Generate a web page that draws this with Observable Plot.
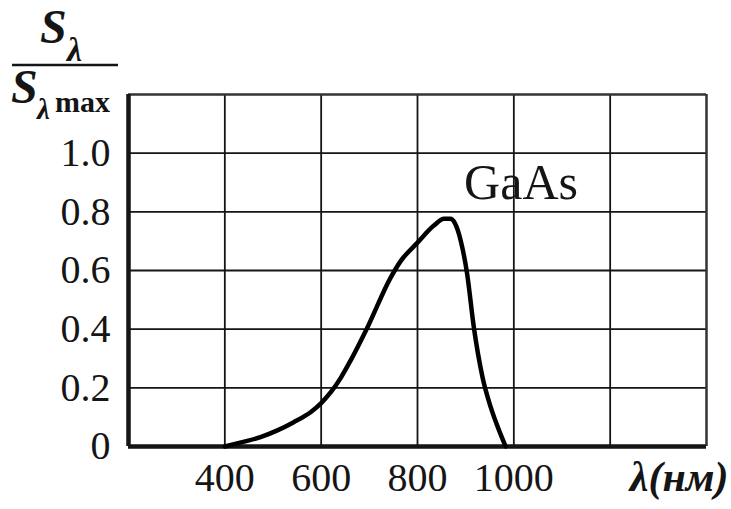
<!DOCTYPE html>
<html>
<head>
<meta charset="utf-8">
<script src="https://cdn.jsdelivr.net/npm/d3@7"></script>
<script src="https://cdn.jsdelivr.net/npm/@observablehq/plot@0.6"></script>
<style>
  body { margin: 0; background: #fff; }
  #chart { position: relative; width: 731px; height: 509px; }
</style>
</head>
<body>
<div id="chart"></div>
<script>
// Relative spectral sensitivity of a GaAs photocathode
const wavelength = [400, 436, 474, 509, 543, 578, 600, 620, 641, 661, 696, 744, 765, 800, 834, 855, 868, 878, 890, 903, 917, 935, 952, 972, 983];
const response   = [0, 0.015, 0.032, 0.055, 0.083, 0.117, 0.148, 0.185, 0.235, 0.293, 0.406, 0.575, 0.632, 0.695, 0.753, 0.776, 0.776, 0.76, 0.70, 0.589, 0.406, 0.236, 0.134, 0.044, 0];

const xGrid = [200, 400, 600, 800, 1000, 1200, 1400];
const yGrid = [0, 0.2, 0.4, 0.6, 0.8, 1.0, 1.2];
const xTicks = [400, 600, 800, 1000];
const xTickLabels = ["400", "600", "800", "1000"];
const yTicks = [0, 0.2, 0.4, 0.6, 0.8, 1.0];
const yTickLabels = ["0", "0.2", "0.4", "0.6", "0.8", "1.0"];
const seriesLabel = "GaAs";
const xLabel = "λ(нм)";

const data = wavelength.map((w, i) => ({w, s: response[i]}));
const ink = "#151515";
const serif = "'Liberation Serif', 'Times New Roman', serif";

const chart = Plot.plot({
  width: 731,
  height: 509,
  marginLeft: 128,
  marginRight: 25,
  marginTop: 94,
  marginBottom: 63,
  style: {fontFamily: serif, fontSize: "40px", color: ink, background: "#fff"},
  x: {domain: [200, 1400]},
  y: {domain: [0, 1.2]},
  marks: [
    // grid
    Plot.ruleX(xGrid.slice(1, -1), {stroke: ink, strokeWidth: 1.8}),
    Plot.ruleY(yGrid.slice(1, -1), {stroke: ink, strokeWidth: 1.8}),
    // frame: heavier left and bottom axes
    Plot.ruleX([xGrid[xGrid.length - 1]], {stroke: "#333", strokeWidth: 2.5}),
    Plot.ruleY([yGrid[yGrid.length - 1]], {stroke: "#333", strokeWidth: 2.5}),
    Plot.ruleX([xGrid[0]], {stroke: ink, strokeWidth: 4.5}),
    Plot.ruleY([yGrid[0]], {stroke: ink, strokeWidth: 4.5}),
    // response curve
    Plot.line(data, {x: "w", y: "s", curve: "monotone-x", stroke: "#000", strokeWidth: 4.5, strokeLinejoin: "round", strokeLinecap: "round"}),
    Plot.text([seriesLabel], {x: [1015], y: [0.90], text: d => d, fontSize: 50, fill: ink}),
    Plot.axisX(xTicks, {tickSize: 0, tickPadding: 16, tickFormat: d => xTickLabels[xTicks.indexOf(d)], label: null, fill: ink}),
    Plot.axisY(yTicks, {tickSize: 0, tickPadding: 18, tickFormat: d => yTickLabels[yTicks.indexOf(d)], label: null, fill: ink}),
    Plot.text([xLabel], {frameAnchor: "bottom-right", text: d => d, dx: 22, dy: 15, lineAnchor: "top", textAnchor: "end", fontStyle: "italic", fontWeight: "bold", fontSize: 42, fill: ink})
  ]
});

document.getElementById("chart").appendChild(chart);

// y-axis title as a fraction S_λ / S_λmax
const svg = d3.select(chart);
const title = svg.append("g")
  .attr("fill", ink)
  .attr("font-family", serif)
  .attr("font-weight", "bold")
  .attr("text-anchor", "start");
title.append("text").attr("x", 40).attr("y", 43).attr("font-size", 48).attr("font-style", "italic").text("S");
title.append("text").attr("x", 67).attr("y", 61).attr("font-size", 34).attr("font-style", "italic").text("λ");
title.append("line").attr("x1", 12).attr("x2", 118).attr("y1", 65).attr("y2", 65).attr("stroke", ink).attr("stroke-width", 2.5);
title.append("text").attr("x", 11).attr("y", 103).attr("font-size", 48).attr("font-style", "italic").text("S");
title.append("text").attr("x", 37).attr("y", 119).attr("font-size", 29).attr("font-style", "italic").text("λ");
title.append("text").attr("x", 55).attr("y", 112).attr("font-size", 30).text("max");
</script>
</body>
</html>
